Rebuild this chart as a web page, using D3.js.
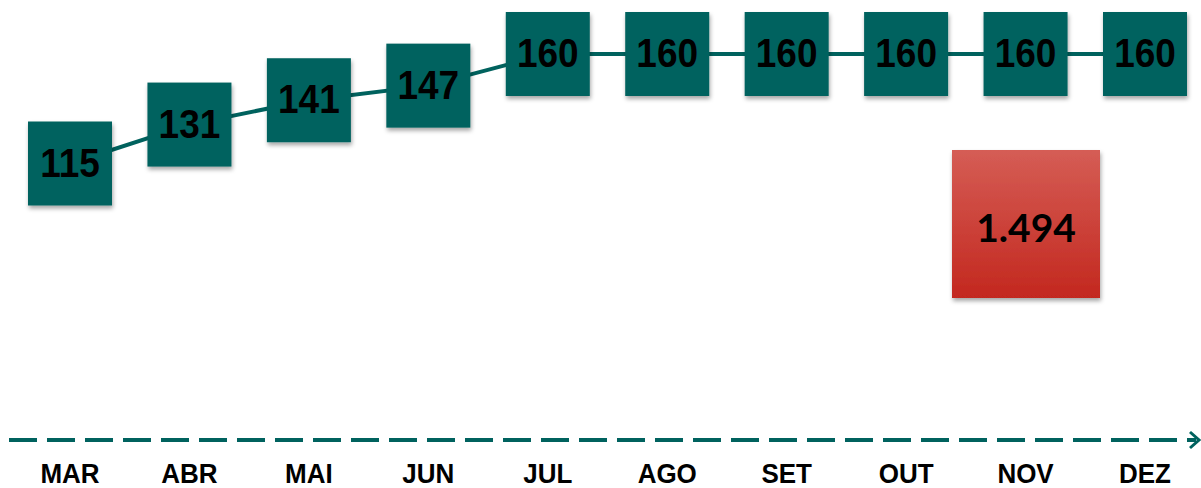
<!DOCTYPE html>
<html lang="en">
<head>
    <meta charset="utf-8">
    <title>Evolução mensal</title>
    <style>
        html, body { margin: 0; padding: 0; background: #fff; }
        svg { display: block; }
    </style>
</head>
<body>
    <div id="container"></div>

    <script src="https://cdn.jsdelivr.net/npm/d3@7"></script>
    <script>
        // Chart data
        const months = ["MAR", "ABR", "MAI", "JUN", "JUL", "AGO", "SET", "OUT", "NOV", "DEZ"];
        const values = [115, 131, 141, 147, 160, 160, 160, 160, 160, 160];
        const totalLabel = "1.494";

        const width = 1201;
        const height = 488;
        const teal = "#00625E";
        const boxSize = 84;

        const svg = d3.select("#container").append("svg")
            .attr("width", width)
            .attr("height", height);

        const defs = svg.append("defs");

        // soft drop shadow under the boxes
        const shadow = defs.append("filter")
            .attr("id", "shadow")
            .attr("x", "-20%").attr("y", "-20%")
            .attr("width", "150%").attr("height", "150%");
        shadow.append("feDropShadow")
            .attr("dx", 1).attr("dy", 3)
            .attr("stdDeviation", 2)
            .attr("flood-color", "#000")
            .attr("flood-opacity", 0.35);

        // red gradient for the total box
        const grad = defs.append("linearGradient")
            .attr("id", "redGrad")
            .attr("x1", 0).attr("y1", 0).attr("x2", 0).attr("y2", 1);
        grad.append("stop").attr("offset", "0%").attr("stop-color", "#D55D55");
        grad.append("stop").attr("offset", "100%").attr("stop-color", "#C3281F");

        // scales
        const x = d3.scalePoint()
            .domain(months)
            .range([70, 1145]);

        const y = d3.scaleLinear()
            .domain([115, 160])
            .range([163.5, 54]);

        // connecting line
        const line = d3.line()
            .x((d, i) => x(months[i]))
            .y(d => y(d));

        svg.append("path")
            .datum(values)
            .attr("d", line)
            .attr("fill", "none")
            .attr("stroke", teal)
            .attr("stroke-width", 4);

        // value boxes
        const nodes = svg.selectAll("g.node")
            .data(values)
            .enter().append("g")
            .attr("class", "node")
            .attr("transform", (d, i) => `translate(${x(months[i])},${y(d)})`);

        nodes.append("rect")
            .attr("x", -boxSize / 2)
            .attr("y", -boxSize / 2)
            .attr("width", boxSize)
            .attr("height", boxSize)
            .attr("fill", teal)
            .attr("filter", "url(#shadow)");

        nodes.append("text")
            .attr("text-anchor", "middle")
            .attr("transform", "translate(0,13) scale(1,1.08)")
            .attr("font-family", "'Liberation Sans', Arial, sans-serif")
            .attr("font-weight", "bold")
            .attr("font-size", 37)
            .attr("fill", "#000")
            .text(d => d);

        // total box
        const total = svg.append("g")
            .attr("transform", "translate(1026,224)");

        total.append("rect")
            .attr("x", -74).attr("y", -74)
            .attr("width", 148).attr("height", 148)
            .attr("fill", "url(#redGrad)")
            .attr("filter", "url(#shadow)");

        total.append("text")
            .attr("text-anchor", "middle")
            .attr("y", 18)
            .attr("font-family", "Lato, 'Open Sans', sans-serif")
            .attr("font-weight", "bold")
            .attr("font-size", 39)
            .attr("fill", "#000")
            .text(totalLabel);

        // dashed time axis with arrow
        const axisY = 440;
        svg.append("line")
            .attr("x1", 9).attr("x2", 1196)
            .attr("y1", axisY).attr("y2", axisY)
            .attr("stroke", teal)
            .attr("stroke-width", 4)
            .attr("stroke-dasharray", "28 10");

        svg.append("path")
            .attr("d", `M1190,${axisY - 8} L1199,${axisY} L1190,${axisY + 8}`)
            .attr("fill", "none")
            .attr("stroke", teal)
            .attr("stroke-width", 3);

        // month labels
        svg.selectAll("text.month")
            .data(months)
            .enter().append("text")
            .attr("class", "month")
            .attr("text-anchor", "middle")
            .attr("transform", d => `translate(${x(d)},483) scale(1,1.08)`)
            .attr("font-family", "'Liberation Sans', Arial, sans-serif")
            .attr("font-weight", "bold")
            .attr("font-size", 26)
            .attr("fill", "#000")
            .text(d => d);
    </script>
</body>
</html>
